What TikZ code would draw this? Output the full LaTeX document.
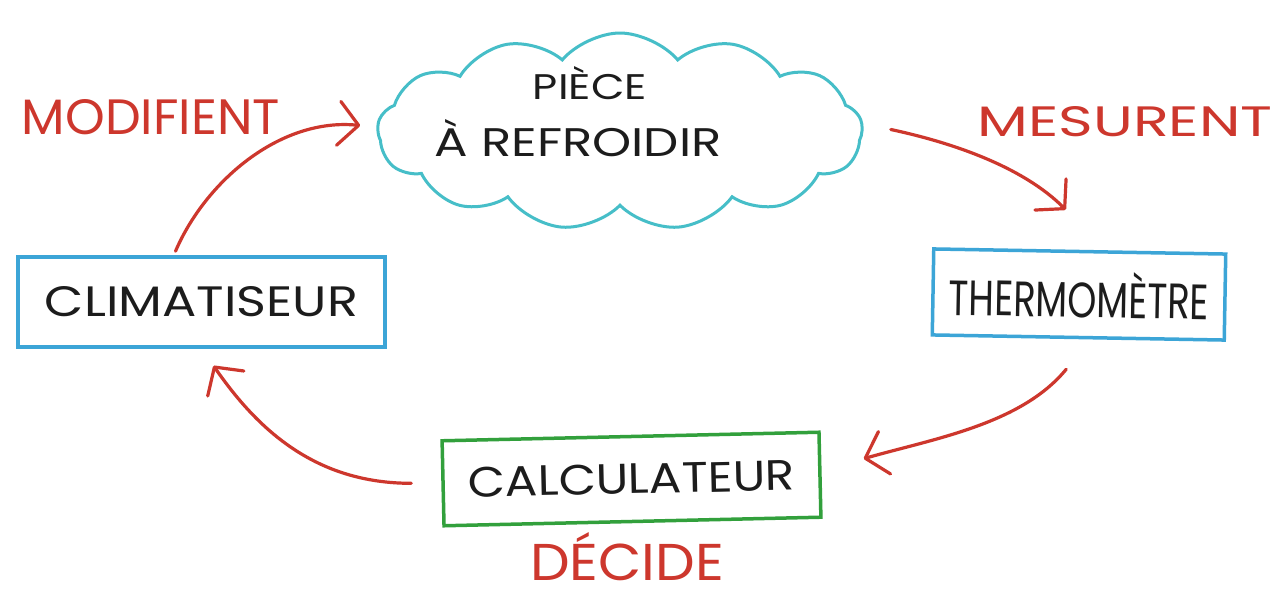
\documentclass[tikz,border=0pt]{standalone}
\usepackage{fontspec}
\usepackage{graphicx}
\setmainfont{Poppins}
\usetikzlibrary{shapes.symbols,arrows.meta,calc}

\definecolor{inkred}{HTML}{CD372D}
\definecolor{inkcyan}{HTML}{46BEC8}
\definecolor{inkblue}{HTML}{3CA5D7}
\definecolor{inkgreen}{HTML}{32A03C}
\definecolor{inkblack}{HTML}{1C1C1C}

% text scaled to a given width and height (in pt)
\newcommand\marker[3]{\resizebox{#1pt}{#2pt}{#3}}

\tikzset{
  cloudbox/.style={cloud, cloud puffs=13, cloud puff arc=100, aspect=2.5,
    draw=inkcyan, line width=3pt, inner sep=0pt,
    minimum width=485pt, minimum height=197pt},
  blockbox/.style={rectangle, draw=inkblue, line width=3.5pt, inner sep=0pt,
    text=inkblack},
  calcbox/.style={blockbox, draw=inkgreen},
  inktext/.style={inner sep=0pt, text=inkblack},
  verb/.style={inner sep=0pt, text=inkred},
  flow/.style={draw=inkred, line width=3.2pt, line cap=round,
    -{Straight Barb[length=20pt, width=44pt, line width=3.2pt, round]}}
}

\begin{document}
\begin{tikzpicture}[x=1pt, y=-1pt]
  \path[use as bounding box, fill=white] (0,0) rectangle (1288,599);

  % the room (cloud) and its label
  \node[cloudbox] (room) at (620,131.5) {};
  \node[inktext] (roomA) at (590,83.5) {\marker{114}{33}{PIÈCE}};
  \node[inktext] (roomB) at (578,138.5) {\marker{287}{37}{À REFROIDIR}};

  % the three blocks
  \node[blockbox, minimum width=367pt, minimum height=90pt] (clim) at (201.5,302)
    {\marker{313}{30}{CLIMATISEUR}};
  \node[blockbox, minimum width=292pt, minimum height=86pt, rotate=-1] (thermo) at (1079,294.5)
    {\marker{260}{46}{THERMOMÈTRE}};
  \node[calcbox, minimum width=377pt, minimum height=85pt, rotate=1.3] (calc) at (631.5,479)
    {\marker{327}{30}{CALCULATEUR}};

  % verbs on the loop
  \node[verb] (modif) at (151,117) {\marker{258}{35}{MODIFIENT}};
  \node[verb] (mesur) at (1125,122) {\marker{295}{30}{MESURENT}};
  \node[verb] (decide) at (627,557) {\marker{194}{48}{DÉCIDE}};

  % the control loop
  \draw[flow] ($(clim.north)+(-26,-4)$) .. controls +(30,-70) and +(-80,-8) .. ($(room.west)+(-16,-6)$);
  \draw[flow] ($(room.east)+(27,-2)$) .. controls +(70,15) and +(-40,-40) .. ($(thermo.north)+(-14,-40)$);
  \draw[flow] ($(thermo.south)+(-12,30)$) .. controls +(-45,55) and +(70,-20) .. ($(calc.east)+(42,-16)$);
  \draw[flow] ($(calc.west)+(-30,0)$) .. controls +(-95,0) and +(45,65) .. ($(clim.south)+(12,17)$);
\end{tikzpicture}
\end{document}
